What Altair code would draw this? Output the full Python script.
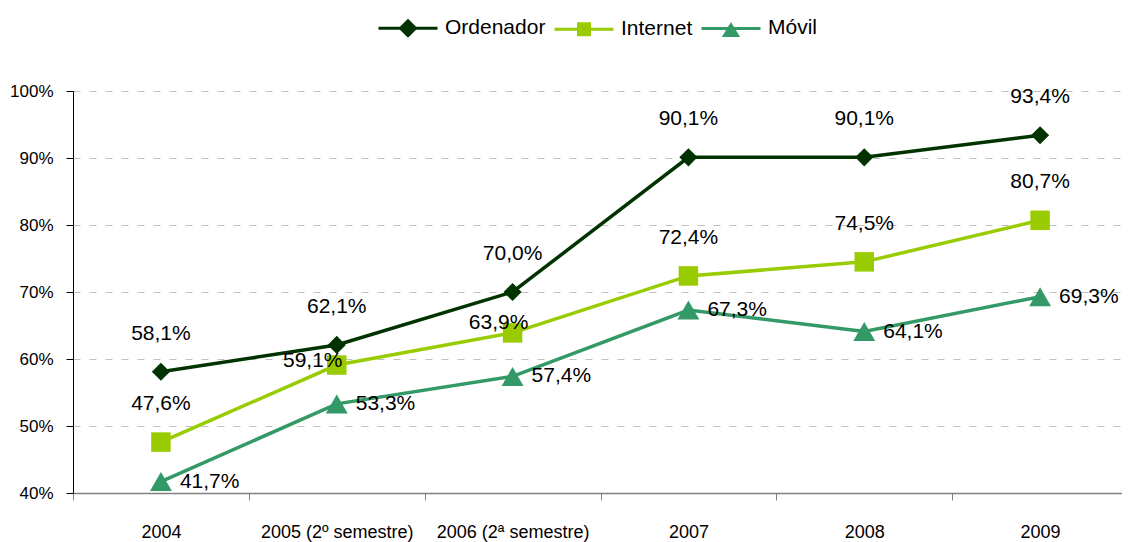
import altair as alt
import pandas as pd

categories = ["2004", "2005 (2º semestre)", "2006 (2ª semestre)", "2007", "2008", "2009"]
series = ["Ordenador", "Internet", "Móvil"]
ordenador = [58.1, 62.1, 70.0, 90.1, 90.1, 93.4]
internet = [47.6, 59.1, 63.9, 72.4, 74.5, 80.7]
movil = [41.7, 53.3, 57.4, 67.3, 64.1, 69.3]
colors = ["#003300", "#99CC00", "#339966"]
y_ticks = [40, 50, 60, 70, 80, 90, 100]

rows = []
for name, vals in zip(series, [ordenador, internet, movil]):
    for c, v in zip(categories, vals):
        rows.append({"cat": c, "serie": name, "valor": v,
                     "etiqueta": f"{v:.1f}".replace(".", ",") + "%"})
df = pd.DataFrame(rows)

FONT = "Liberation Sans"

x = alt.X("cat:N", sort=categories,
          scale=alt.Scale(type="band", paddingInner=0, paddingOuter=0, range=[0, 1055]),
          axis=alt.Axis(title=None, labelAngle=0, tickBand="extent", domainColor="#808080",
                        tickColor="#808080", tickSize=7, labelPadding=23, labelFontSize=18,
                        labelFont=FONT, labelColor="#000000", grid=False, domainWidth=1.5))
y = alt.Y("valor:Q", scale=alt.Scale(domain=[40, 100], nice=False, zero=False),
          axis=alt.Axis(title=None, values=y_ticks, labelExpr="datum.value + '%'", grid=True,
                        gridDash=[7, 9], gridColor="#c0c0c0", domainColor="#000000",
                        tickColor="#000000", tickSize=7, labelPadding=13, labelFontSize=17,
                        labelFont=FONT, labelColor="#000000"))

line_path = "M-1,0L1,0"
legend_shapes = [
    line_path + "M0,-0.254L0.254,0L0,0.254L-0.254,0Z",
    line_path + "M-0.186,-0.186L0.186,-0.186L0.186,0.186L-0.186,0.186Z",
    line_path + "M0,-0.12L0.22,0.24L-0.22,0.24Z",
]
marker_shapes = ["diamond", "square", "triangle-up"]
marker_sizes = [330, 380, 480]

base = alt.Chart(df)

series_layers = []
for s, col, shp, sz in zip(series, colors, marker_shapes, marker_sizes):
    sub = base.transform_filter(alt.datum.serie == s)
    series_layers.append(sub.mark_line(strokeWidth=3.5, color=col).encode(x=x, y=y))
for s, col, shp, sz in zip(series, colors, marker_shapes, marker_sizes):
    sub = base.transform_filter(alt.datum.serie == s)
    series_layers.append(sub.mark_point(filled=True, opacity=1, shape=shp, size=sz, color=col).encode(x=x, y=y))

legend_kw = dict(title=None, orient="none", legendX=304, legendY=-94, direction="horizontal",
                 symbolSize=3481, labelFontSize=21, labelFont=FONT, labelColor="#000000",
                 labelOffset=6, columnPadding=2, symbolStrokeWidth=3)
legend_layer = base.transform_filter("false").mark_point(
    filled=True, opacity=1, size=3481, strokeWidth=3
).encode(
    fill=alt.Fill("serie:N", scale=alt.Scale(domain=series, range=colors), legend=alt.Legend(**legend_kw)),
    stroke=alt.Stroke("serie:N", scale=alt.Scale(domain=series, range=colors), legend=alt.Legend(**legend_kw)),
    shape=alt.Shape("serie:N", scale=alt.Scale(domain=series, range=legend_shapes), legend=alt.Legend(**legend_kw)),
)

def txt(filter_expr, **kw):
    return base.transform_filter(filter_expr).mark_text(
        fontSize=21, font=FONT, color="#000000", baseline="middle", **kw
    ).encode(x=x, y=y, text="etiqueta:N")

exc1 = "datum.serie == 'Internet' && datum.cat == '2005 (2º semestre)'"
exc2 = "datum.serie == 'Internet' && datum.cat == '2006 (2ª semestre)'"
above = txt("(datum.serie == 'Ordenador' || datum.serie == 'Internet') && !(" + exc1 + ") && !(" + exc2 + ")",
            align="center", dy=-38)
t_exc1 = txt(exc1, align="center", dx=-24, dy=-4)
t_exc2 = txt(exc2, align="center", dx=-14, dy=-10)
right = txt("datum.serie == 'Móvil'", align="left", dx=19)

chart = alt.layer(*series_layers, legend_layer, above, t_exc1, t_exc2, right).properties(
    width=1049, height=402,
    padding={"left": 65, "top": 83, "right": 0, "bottom": 49},
    autosize=alt.AutoSizeParams(type="none"),
).configure_view(stroke=None)

chart.save("out.html", embed_options={"renderer": "svg", "actions": False})
